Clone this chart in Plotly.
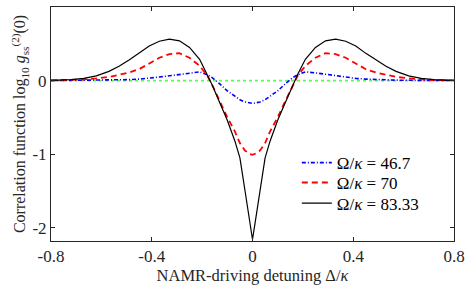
import plotly.graph_objects as go

# detuning grid (Delta / kappa)
x_vals = [-0.8, -0.72, -0.67, -0.62, -0.57, -0.53, -0.49, -0.45, -0.41, -0.37, -0.33, -0.29,
          -0.25, -0.21, -0.18, -0.16, -0.13, -0.1, -0.07, -0.05, -0.03, -0.02, -0.01,
          0.0,
          0.01, 0.02, 0.03, 0.05, 0.07, 0.1, 0.13, 0.16, 0.18, 0.21, 0.25, 0.29,
          0.33, 0.37, 0.41, 0.45, 0.49, 0.53, 0.57, 0.62, 0.67, 0.72, 0.8]

blue_467 = [0.0, 0.001, 0.002, 0.004, 0.006, 0.009, 0.013, 0.02, 0.03, 0.048, 0.065, 0.085,
            0.105, 0.118, 0.08, 0.04, -0.045, -0.14, -0.21, -0.26, -0.29, -0.3, -0.305,
            -0.31,
            -0.305, -0.3, -0.29, -0.26, -0.21, -0.14, -0.045, 0.04, 0.08, 0.118, 0.105, 0.085,
            0.065, 0.048, 0.03, 0.02, 0.013, 0.009, 0.006, 0.004, 0.002, 0.001, 0.0]

red_70 = [0.002, 0.007, 0.015, 0.03, 0.05, 0.078, 0.11, 0.155, 0.235, 0.31, 0.36, 0.372,
          0.31, 0.2, 0.07, -0.06, -0.28, -0.5, -0.69, -0.85, -0.95, -0.98, -1.0,
          -1.01,
          -1.0, -0.98, -0.95, -0.85, -0.69, -0.5, -0.28, -0.06, 0.07, 0.2, 0.31, 0.372,
          0.36, 0.31, 0.235, 0.155, 0.11, 0.078, 0.05, 0.03, 0.015, 0.007, 0.002]

black_8333 = [0.003, 0.012, 0.03, 0.065, 0.125, 0.195, 0.28, 0.37, 0.47, 0.535, 0.563, 0.54,
              0.45, 0.29, 0.09, -0.06, -0.3, -0.54, -0.82, -1.05, -1.49, -1.71, -1.94,
              -2.16,
              -1.94, -1.71, -1.49, -1.05, -0.82, -0.54, -0.3, -0.06, 0.09, 0.29, 0.45, 0.54,
              0.563, 0.535, 0.47, 0.37, 0.28, 0.195, 0.125, 0.065, 0.03, 0.012, 0.003]

green_x = [-0.8, 0.8]
green_y = [0.0, 0.0]

x_ticks = [-0.8, -0.4, 0, 0.4, 0.8]
x_tick_text = ["-0.8", "-0.4", "0", "0.4", "0.8"]
y_ticks = [1, 0, -1, -2]
y_tick_text = ["1", "0", "-1", "-2"]

FONT = "Liberation Serif"

fig = go.Figure()
fig.add_trace(go.Scatter(x=green_x, y=green_y, mode="lines", showlegend=False,
                         line=dict(color="#55ff55", width=1.6, dash="dot")))
fig.add_trace(go.Scatter(x=x_vals, y=blue_467, mode="lines", name="Ω/<i>κ</i> = 46.7",
                         legend="legend",
                         line=dict(color="#0000ff", width=1.6, dash="4px,2px,1px,2px")))
fig.add_trace(go.Scatter(x=x_vals, y=red_70, mode="lines", name="Ω/<i>κ</i> = 70",
                         legend="legend2",
                         line=dict(color="#ff0000", width=1.8, dash="6px,4px")))
fig.add_trace(go.Scatter(x=x_vals, y=black_8333, mode="lines", name="Ω/<i>κ</i> = 83.33",
                         legend="legend3",
                         line=dict(color="#000000", width=1.2)))

axis_common = dict(showline=True, linecolor="#262626", linewidth=1, mirror="ticks",
                   ticks="inside", ticklen=4, tickcolor="#262626", showgrid=False,
                   zeroline=False, automargin=False,
                   tickfont=dict(family=FONT, size=17, color="#262626"))

fig.update_xaxes(range=[-0.8, 0.8], tickvals=x_ticks, ticktext=x_tick_text,
                 title=dict(text="NAMR-driving detuning Δ/<i>κ</i>", standoff=0,
                            font=dict(family=FONT, size=16.5, color="#262626")),
                 **axis_common)
fig.update_yaxes(range=[-2.18, 1.0], tickvals=y_ticks, ticktext=y_tick_text,
                 title=dict(text="Correlation function log<sub>10</sub> <i>g</i><sub>ss</sub><sup>(2)</sup>(0)",
                            standoff=2, font=dict(family=FONT, size=16, color="#262626")),
                 **axis_common)

legend_common = dict(x=0.61, xanchor="left", yanchor="middle",
                     bgcolor="rgba(0,0,0,0)", borderwidth=0, itemwidth=30,
                     font=dict(family=FONT, size=17, color="#000000"))

fig.update_layout(
    width=469, height=288,
    margin=dict(l=51, r=15, t=7, b=47),
    paper_bgcolor="white", plot_bgcolor="white",
    font=dict(family=FONT, color="#000000"),
    legend=dict(y=0.333, **legend_common),
    legend2=dict(y=0.248, **legend_common),
    legend3=dict(y=0.160, **legend_common),
)

fig.write_html("out.html", config={"displayModeBar": False},
               post_script="document.body.style.margin='0';document.body.style.overflow='hidden';")
